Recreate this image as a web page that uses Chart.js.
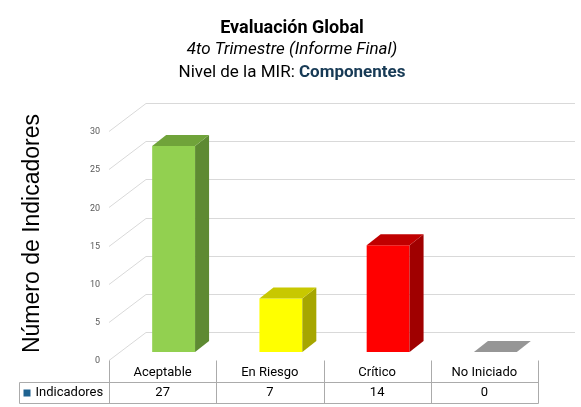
<!DOCTYPE html>
<html>
<head>
<meta charset="utf-8">
<script src="https://cdn.jsdelivr.net/npm/chart.js@4"></script>
<style>
  html, body { margin: 0; padding: 0; background: #fff; }
</style>
</head>
<body>
<canvas id="chart" width="581" height="407"></canvas>
<script>
const categories = ['Aceptable', 'En Riesgo', 'Crítico', 'No Iniciado'];
const indicadores = [27, 7, 14, 0];
const seriesName = 'Indicadores';
const yTicks = [0, 5, 10, 15, 20, 25, 30];
const titleLine1 = 'Evaluación Global';
const titleLine2 = '4to Trimestre (Informe Final)';
const levelLabel = 'Nivel de la MIR: ';
const levelValue = 'Componentes';
const yTitle = 'Número de Indicadores';

const frontColors = ['#92D050', '#FFFF00', '#FF0000', '#969696'];
const topColors = ['#70A33A', '#C8C800', '#C00000', '#969696'];
const sideColors = ['#5E8A32', '#A6A600', '#A00000', '#7A7A7A'];

// fake 3d offsets (px)
const DEPTH = { dx: 14, dy: -11 };   // bar thickness
const WALL = { dx: 26, dy: -20 };    // bar plane -> back wall
const FLOOR = { dx: -11, dy: 8 };    // bar plane -> front edge of floor
const FONT = 'Roboto, "Open Sans", sans-serif';

function line(ctx, x1, y1, x2, y2) {
  ctx.beginPath();
  ctx.moveTo(x1, y1);
  ctx.lineTo(x2, y2);
  ctx.stroke();
}

function poly(ctx, pts, color) {
  ctx.beginPath();
  ctx.moveTo(pts[0][0], pts[0][1]);
  for (let i = 1; i < pts.length; i++) ctx.lineTo(pts[i][0], pts[i][1]);
  ctx.closePath();
  ctx.fillStyle = color;
  ctx.fill();
}

const walls = {
  id: 'walls',
  beforeDatasetsDraw(chart) {
    const { ctx, chartArea: a, scales: { y } } = chart;
    ctx.save();
    ctx.strokeStyle = '#D9D9D9';
    ctx.lineWidth = 1;
    yTicks.forEach(v => {
      const py = Math.round(y.getPixelForValue(v)) + 0.5;
      line(ctx, a.left + FLOOR.dx, py + FLOOR.dy, a.left + WALL.dx, py + WALL.dy);
      line(ctx, a.left + WALL.dx, py + WALL.dy, a.right + WALL.dx, py + WALL.dy);
    });
    ctx.restore();
  }
};

const bars3d = {
  id: 'bars3d',
  afterDatasetsDraw(chart) {
    const ctx = chart.ctx;
    const meta = chart.getDatasetMeta(0);
    ctx.save();
    meta.data.forEach((bar, i) => {
      const { x, y, base, width } = bar.getProps(['x', 'y', 'base', 'width'], true);
      const l = x - width / 2, r = x + width / 2;
      if (base - y > 0.5) {
        poly(ctx, [[r, y], [r + DEPTH.dx, y + DEPTH.dy], [r + DEPTH.dx, base + DEPTH.dy], [r, base]], sideColors[i]);
      }
      poly(ctx, [[l, y], [l + DEPTH.dx, y + DEPTH.dy], [r + DEPTH.dx, y + DEPTH.dy], [r, y]], topColors[i]);
    });
    ctx.restore();
  }
};

const dataTable = {
  id: 'dataTable',
  afterDraw(chart) {
    const { ctx, chartArea: a, scales: { x, y } } = chart;
    const cw = (a.right - a.left) / categories.length;
    const top = Math.round(y.getPixelForValue(0) + FLOOR.dy) + 0.5;
    const mid = top + 22;
    const bottom = top + 43;
    const last = Math.round(x.getPixelForValue(categories.length - 1) + FLOOR.dx + cw / 2) + 0.5;
    const legendLeft = 19.5;
    ctx.save();
    ctx.strokeStyle = '#ABABAB';
    ctx.lineWidth = 1;
    line(ctx, legendLeft, mid, last, mid);
    line(ctx, legendLeft, bottom, last, bottom);
    line(ctx, legendLeft, mid, legendLeft, bottom);
    for (let i = 0; i <= categories.length; i++) {
      const bx = Math.round(x.getPixelForValue(0) + FLOOR.dx - cw / 2 + i * cw) + 0.5;
      line(ctx, bx, top, bx, bottom);
    }
    ctx.fillStyle = '#000';
    ctx.font = '13px ' + FONT;
    ctx.textAlign = 'center';
    ctx.textBaseline = 'middle';
    categories.forEach((c, i) => {
      const cx = x.getPixelForValue(i) + FLOOR.dx;
      ctx.fillText(c, cx, (top + mid) / 2 + 1);
      ctx.fillText(String(indicadores[i]), cx, (mid + bottom) / 2);
    });
    // legend key
    ctx.fillStyle = '#1F6391';
    ctx.fillRect(legendLeft + 4, mid + 7, 7, 7);
    ctx.fillStyle = '#000';
    ctx.textAlign = 'left';
    ctx.fillText(seriesName, legendLeft + 16, (mid + bottom) / 2);
    ctx.restore();
  }
};

const titles = {
  id: 'titles',
  afterDraw(chart) {
    const { ctx, chartArea: a } = chart;
    const cx = 292;
    ctx.save();
    ctx.fillStyle = '#000';
    ctx.textAlign = 'center';
    ctx.textBaseline = 'middle';
    ctx.font = 'bold 18px ' + FONT;
    ctx.fillText(titleLine1, cx, 28);
    ctx.font = 'italic 17px ' + FONT;
    ctx.fillText(titleLine2, cx, 50);
    ctx.font = '17px ' + FONT;
    const w1 = ctx.measureText(levelLabel).width;
    ctx.font = 'bold 17px ' + FONT;
    const w2 = ctx.measureText(levelValue).width;
    const sx = cx - (w1 + w2) / 2;
    ctx.textAlign = 'left';
    ctx.font = '17px ' + FONT;
    ctx.fillText(levelLabel, sx, 73);
    ctx.font = 'bold 17px ' + FONT;
    ctx.fillStyle = '#173A55';
    ctx.fillText(levelValue, sx + w1, 73);

    // y axis title
    ctx.translate(33, (a.top + a.bottom) / 2 - 4);
    ctx.rotate(-Math.PI / 2);
    ctx.textAlign = 'center';
    ctx.fillStyle = '#000';
    ctx.font = '23px "Liberation Sans", Arial, sans-serif';
    ctx.fillText(yTitle, 0, 0);
    ctx.restore();
  }
};

new Chart(document.getElementById('chart'), {
  type: 'bar',
  data: {
    labels: categories,
    datasets: [{
      label: seriesName,
      data: indicadores,
      backgroundColor: frontColors,
      borderWidth: 0,
      barPercentage: 0.4,
      categoryPercentage: 1
    }]
  },
  options: {
    responsive: false,
    animation: false,
    devicePixelRatio: 1,
    layout: { padding: { top: 123, right: 32, bottom: 55, left: 19 } },
    plugins: {
      legend: { display: false },
      tooltip: { enabled: false },
      title: { display: false }
    },
    scales: {
      x: { display: false },
      y: {
        min: 0,
        max: 30,
        ticks: { stepSize: 5, padding: 20, labelOffset: 9, color: '#595959', font: { size: 9, family: FONT } },
        grid: { display: false, drawTicks: false },
        border: { display: false },
        afterFit(scale) { scale.width = 101; }
      }
    }
  },
  plugins: [walls, bars3d, dataTable, titles]
});
</script>
</body>
</html>
